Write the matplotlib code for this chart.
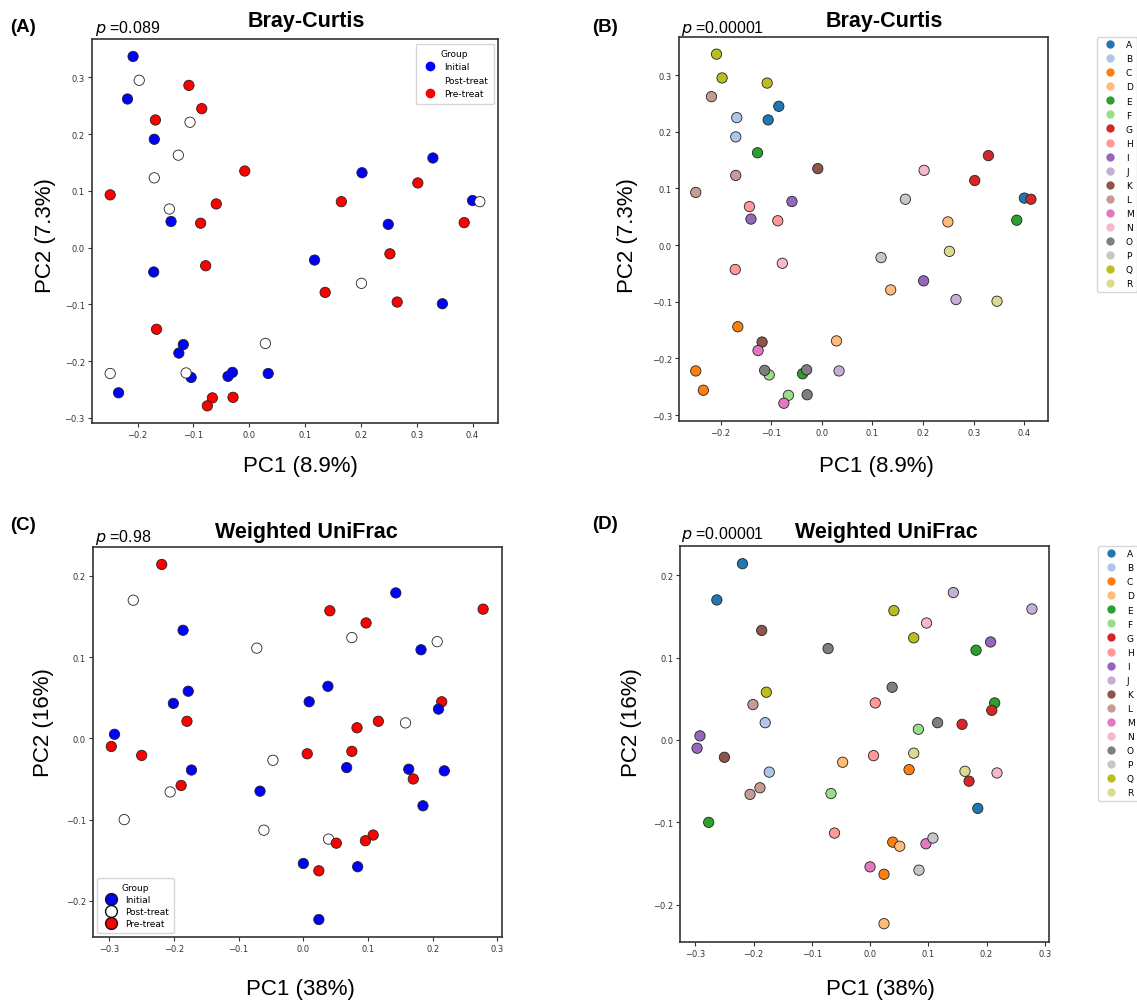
import matplotlib
matplotlib.use("Agg")
import matplotlib.pyplot as plt
from matplotlib.lines import Line2D

# one entry per sample: subject, group, PCoA coordinates
subjects = ["A", "A", "A", "B", "B", "C", "C", "C", "D", "D", "D", "E", "E", "E",
            "F", "F", "G", "G", "G", "H", "H", "H", "I", "I", "I", "J", "J",
            "K", "K", "L", "L", "L", "M", "M", "N", "N", "O", "O", "O",
            "P", "P", "Q", "Q", "Q", "R", "R"]
groups = ["Initial", "Pre-treat", "Post-treat", "Initial", "Pre-treat",
          "Initial", "Pre-treat", "Post-treat", "Initial", "Pre-treat", "Post-treat",
          "Initial", "Pre-treat", "Post-treat", "Initial", "Pre-treat",
          "Initial", "Pre-treat", "Post-treat", "Initial", "Pre-treat", "Post-treat",
          "Initial", "Pre-treat", "Post-treat", "Initial", "Pre-treat",
          "Initial", "Pre-treat", "Initial", "Pre-treat", "Post-treat",
          "Initial", "Pre-treat", "Initial", "Pre-treat",
          "Initial", "Pre-treat", "Post-treat", "Initial", "Pre-treat",
          "Initial", "Pre-treat", "Post-treat", "Initial", "Pre-treat"]

bc_pc1 = [0.400, -0.085, -0.106, -0.170, -0.168, -0.234, -0.166, -0.249,
          0.249, 0.136, 0.029, -0.038, 0.385, -0.127, -0.104, -0.066,
          0.329, 0.302, 0.413, -0.171, -0.087, -0.143, -0.140, -0.059, 0.201,
          0.034, 0.265, -0.118, -0.008, -0.218, -0.249, -0.170, -0.126, -0.075,
          0.202, -0.078, -0.030, -0.029, -0.113, 0.117, 0.165,
          -0.208, -0.108, -0.197, 0.346, 0.252]
bc_pc2 = [0.083, 0.245, 0.221, 0.191, 0.225, -0.256, -0.144, -0.222,
          0.041, -0.079, -0.169, -0.227, 0.044, 0.163, -0.229, -0.265,
          0.158, 0.114, 0.081, -0.043, 0.043, 0.068, 0.046, 0.077, -0.063,
          -0.222, -0.096, -0.171, 0.135, 0.262, 0.093, 0.123, -0.186, -0.279,
          0.132, -0.032, -0.220, -0.264, -0.221, -0.022, 0.081,
          0.337, 0.286, 0.295, -0.099, -0.011]

wu_pc1 = [0.185, -0.219, -0.263, -0.173, -0.180, 0.067, 0.024, 0.039,
          0.024, 0.051, -0.047, 0.182, 0.214, -0.277, -0.067, 0.083,
          0.209, 0.170, 0.158, 0.009, 0.006, -0.061, -0.292, -0.297, 0.207,
          0.143, 0.278, -0.186, -0.250, -0.201, -0.189, -0.206, 0.000, 0.096,
          0.218, 0.097, 0.038, 0.116, -0.072, 0.084, 0.108,
          -0.178, 0.041, 0.075, 0.163, 0.075]
wu_pc2 = [-0.083, 0.214, 0.170, -0.039, 0.021, -0.036, -0.163, -0.124,
          -0.223, -0.129, -0.027, 0.109, 0.045, -0.100, -0.065, 0.013,
          0.036, -0.050, 0.019, 0.045, -0.019, -0.113, 0.005, -0.010, 0.119,
          0.179, 0.159, 0.133, -0.021, 0.043, -0.058, -0.066, -0.154, -0.126,
          -0.040, 0.142, 0.064, 0.021, 0.111, -0.158, -0.119,
          0.058, 0.157, 0.124, -0.038, -0.016]

group_names = ["Initial", "Post-treat", "Pre-treat"]
group_colors = {"Initial": "#0000ff", "Post-treat": "#ffffff", "Pre-treat": "#ff0000"}
subject_names = list("ABCDEFGHIJKLMNOPQR")
subject_colors = dict(zip(subject_names, plt.get_cmap("tab20").colors[:18]))

W, H = 1137, 1003
TITLE_FONT = ["Liberation Sans", "DejaVu Sans"]

fig = plt.figure(figsize=(W / 100, H / 100), dpi=100)


def px_rect(left, top, right, bottom):
    return [left / W, 1 - bottom / H, (right - left) / W, (bottom - top) / H]


def ftext(x, y, s, **kw):
    fig.text(x / W, 1 - y / H, s, transform=fig.transFigure, **kw)


def style_axes(ax):
    for sp in ax.spines.values():
        sp.set_color("#333333")
        sp.set_linewidth(1.2)
    ax.tick_params(labelsize=6, length=3, width=0.8, pad=2,
                   colors="#333333", labelcolor="#333333")


def draw_panel(rect, xs, ys, colors):
    ax = fig.add_axes(rect)
    ax.scatter(xs, ys, c=colors, s=55, edgecolors="#222222", linewidths=0.6, zorder=3)
    style_axes(ax)
    return ax


group_cols = [group_colors[g] for g in groups]
subj_cols = [subject_colors[s] for s in subjects]

# (A) Bray-Curtis by group
axA = draw_panel(px_rect(91.7, 40, 498.3, 424.3), bc_pc1, bc_pc2, group_cols)
hA = [Line2D([], [], marker="o", ls="", markersize=7, markerfacecolor=group_colors[g],
             markeredgewidth=0) for g in group_names]
axA.legend(hA, group_names, title="Group", loc="upper right", fontsize=6.5,
           title_fontsize=6.5, handletextpad=0.6, borderpad=0.6)

# (B) Bray-Curtis by subject
axB = draw_panel(px_rect(679, 37.7, 1047.7, 421.7), bc_pc1, bc_pc2, subj_cols)
hB = [Line2D([], [], marker="o", ls="", markersize=6, markerfacecolor=subject_colors[s],
             markeredgewidth=0) for s in subject_names]
axB.legend(hB, subject_names, loc="upper left", bbox_to_anchor=(1.134, 1.0),
           borderaxespad=0, fontsize=6.5, labelspacing=0.56, handletextpad=0.8)

# (C) Weighted UniFrac by group
axC = draw_panel(px_rect(92.7, 547.7, 501.7, 938.3), wu_pc1, wu_pc2, group_cols)
hC = [Line2D([], [], marker="o", ls="", markersize=8.5, markerfacecolor=group_colors[g],
             markeredgecolor="#111111", markeredgewidth=1.0) for g in group_names]
axC.legend(hC, group_names, title="Group", loc="lower left", fontsize=6.5,
           title_fontsize=6.5, handletextpad=0.6, labelspacing=0.35, borderpad=0.5)

# (D) Weighted UniFrac by subject
axD = draw_panel(px_rect(680.3, 546.7, 1048.7, 942.7), wu_pc1, wu_pc2, subj_cols)
axD.legend(hB, subject_names, loc="upper left", bbox_to_anchor=(1.134, 1.0),
           borderaxespad=0, fontsize=6.5, labelspacing=0.56, handletextpad=0.8)

# panel letters, titles, p values
for x, y, s in [(10, 32, "(A)"), (591.7, 32, "(B)"), (10, 530, "(C)"), (591.7, 529.3, "(D)")]:
    ftext(x, y, s, fontsize=13.5, fontweight="bold", family=TITLE_FONT, va="baseline")

for x, y, s in [(306.5, 27.3, "Bray-Curtis"), (884, 26.7, "Bray-Curtis"),
                (306.7, 538.3, "Weighted UniFrac"), (886, 537.7, "Weighted UniFrac")]:
    ftext(x, y, s, fontsize=15.5, fontweight="bold", family=TITLE_FONT,
          ha="center", va="baseline")

for x, y, s in [(95, 33.3, "0.089"), (681, 33.3, "0.00001"),
                (95, 541.7, "0.98"), (681, 539.3, "0.00001")]:
    ftext(x, y, r"$\it{p}$ =" + s, fontsize=11.5, family=TITLE_FONT, va="baseline")

# axis labels
for x, y, s in [(300, 472.3, "PC1 (8.9%)"), (876, 472.3, "PC1 (8.9%)"),
                (300, 995, "PC1 (38%)"), (880, 995, "PC1 (38%)")]:
    ftext(x, y, s, fontsize=16, family=TITLE_FONT, ha="center", va="baseline")

for x, y, s in [(45, 236, "PC2 (7.3%)"), (628, 236, "PC2 (7.3%)"),
                (43, 723, "PC2 (16%)"), (631, 723, "PC2 (16%)")]:
    ftext(x, y, s, fontsize=16, family=TITLE_FONT, ha="center", va="center", rotation=90)

fig.savefig("out.png", dpi=100)
